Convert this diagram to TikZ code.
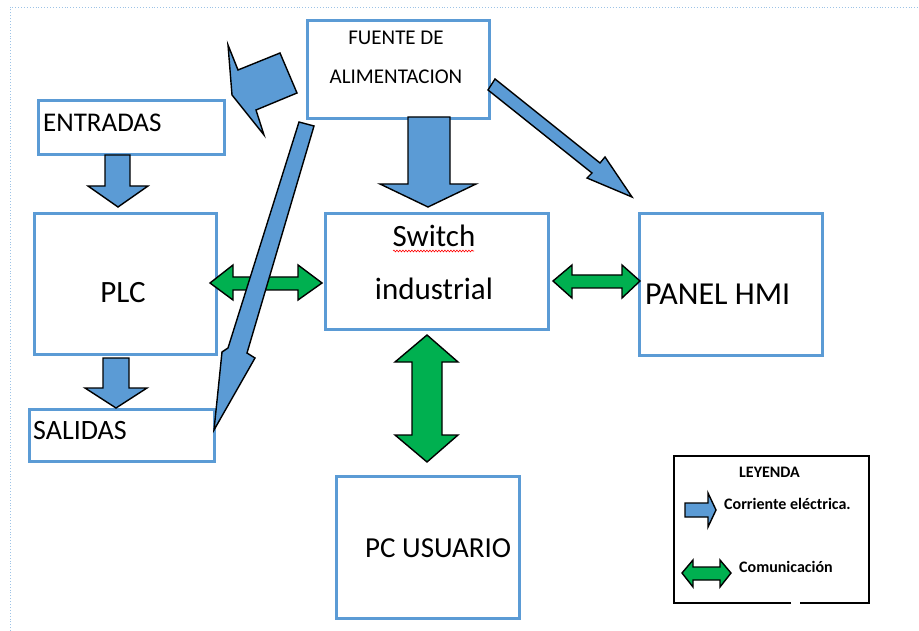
\documentclass[tikz,border=0pt]{standalone}
\usepackage{fontspec}
\setmainfont{Carlito}
\usetikzlibrary{decorations.pathmorphing}
\definecolor{boxblue}{HTML}{5B9BD5}
\definecolor{arrblue}{HTML}{5B9BD5}
\definecolor{arrgreen}{HTML}{00B050}
\definecolor{dotblue}{HTML}{9DC3E6}
\begin{document}
\begin{tikzpicture}[x=1pt,y=-1pt,
  box/.style={draw=boxblue,line width=2.6pt,inner sep=0pt,anchor=north west},
  txt/.style={inner sep=0pt,text=black},
  powarrow/.style={draw=black,fill=arrblue,line width=1.4pt,line join=miter},
  comarrow/.style={draw=black,fill=arrgreen,line width=1.4pt,line join=miter}]
\useasboundingbox (0,0) rectangle (919,631);
% page border
\draw[dotblue,dotted,line width=0.9pt] (10,631) -- (10,7) -- (919,7);
% boxes
\node[box,minimum width=182pt,minimum height=98pt] (fuente) at (306,19) {};
\node[box,minimum width=186pt,minimum height=54pt] (entradas) at (37,99) {};
\node[box,minimum width=182pt,minimum height=141pt] (plc) at (33,212) {};
\node[box,minimum width=185pt,minimum height=52pt] (salidas) at (28,408) {};
\node[box,minimum width=223pt,minimum height=116pt] (switch) at (324,212) {};
\node[box,minimum width=183pt,minimum height=142pt] (hmi) at (638,212) {};
\node[box,minimum width=183pt,minimum height=142pt] (pc) at (335,475) {};
% texts
\node[txt,anchor=base] (t1) at (396,45) {\fontsize{21}{24}\selectfont FUENTE DE};
\node[txt,anchor=base] (t2) at (396,84) {\fontsize{21}{24}\selectfont ALIMENTACION};
\node[txt,anchor=base west] (t3) at (43,132) {\fontsize{27}{30}\selectfont ENTRADAS};
\node[txt,anchor=base] (t4) at (123,302) {\fontsize{31}{34}\selectfont PLC};
\node[txt,anchor=base west] (t5) at (33,439) {\fontsize{28}{31}\selectfont SALIDAS};
\node[txt,anchor=base] (t6) at (434,247) {\fontsize{31}{34}\selectfont Switch};
\node[txt,anchor=base] (t7) at (434,300) {\fontsize{31}{34}\selectfont industrial};
\node[txt,anchor=base west] (t8) at (645,305) {\fontsize{32}{35}\selectfont PANEL HMI};
\node[txt,anchor=base west] (t9) at (365,557) {\fontsize{29}{32}\selectfont PC USUARIO};
\draw[red,line width=0.6pt,decorate,decoration={snake,amplitude=0.9pt,segment length=3pt}] (393,251) -- (474,251);
% communication arrows
\draw[comarrow] (210,283) -- (233,265) -- (233,277) -- (298,277) -- (298,265) -- (322,283) -- (298,300) -- (298,290) -- (233,290) -- (233,300) -- cycle;
\draw[comarrow] (553,281) -- (572,265) -- (572,275) -- (622,275) -- (622,265) -- (640,281) -- (622,298) -- (622,288) -- (572,288) -- (572,298) -- cycle;
\draw[comarrow] (427,335) -- (458,362) -- (442,362) -- (442,435) -- (458,435) -- (427,462) -- (395,435) -- (412,435) -- (412,362) -- (395,362) -- cycle;
% power arrows
\draw[powarrow] (408,117) -- (450,117) -- (450,184) -- (476,184) -- (428,207) -- (380,184) -- (408,184) -- cycle;
\draw[powarrow] (105,155) -- (130,155) -- (130,186) -- (148,186) -- (118,207) -- (88,186) -- (105,186) -- cycle;
\draw[powarrow] (103,358) -- (129,358) -- (129,388) -- (147,388) -- (116,408) -- (85,388) -- (103,388) -- cycle;
\draw[powarrow] (299,122) -- (314,126) -- (247,353) -- (255,358) -- (214,430) -- (222,352) -- (228,348) -- cycle;
\draw[powarrow] (495,79) -- (600,163) -- (605,157) -- (632,197) -- (587,178) -- (592,173) -- (488,90) -- cycle;
\draw[powarrow] (228,45) -- (238,70) -- (280,53) -- (297,93) -- (256,110) -- (264,135) -- (232,95) -- cycle;
% legend
\draw[black,line width=2.6pt] (791,603) -- (674,603) -- (674,456) -- (869,456) -- (869,603) -- (800,603);
\node[txt,anchor=base west] (l1) at (739,477) {\fontsize{16}{18}\selectfont\bfseries LEYENDA};
\node[txt,anchor=base west] (l2) at (724,509) {\fontsize{16}{18}\selectfont\bfseries Corriente eléctrica.};
\node[txt,anchor=base west] (l3) at (739,572) {\fontsize{16}{18}\selectfont\bfseries Comunicación};
\draw[powarrow] (685,503) -- (708,503) -- (708,493) -- (716,510) -- (708,527) -- (708,517) -- (685,517) -- cycle;
\draw[comarrow] (682,573) -- (693,560) -- (693,567) -- (720,567) -- (720,560) -- (731,573) -- (720,587) -- (720,580) -- (693,580) -- (693,587) -- cycle;
\end{tikzpicture}
\end{document}
